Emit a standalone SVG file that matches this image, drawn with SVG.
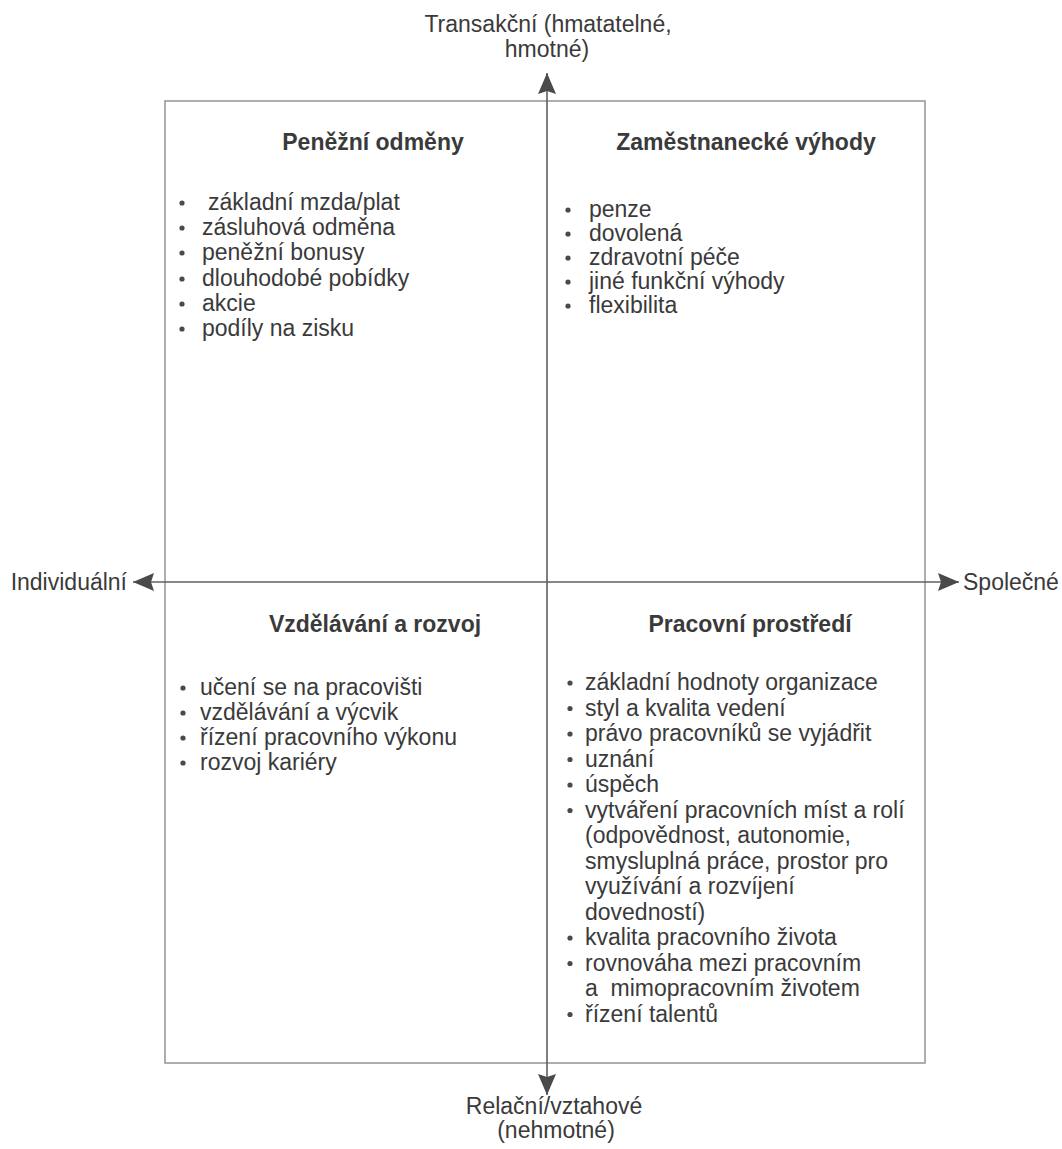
<svg xmlns="http://www.w3.org/2000/svg" width="1062" height="1149" viewBox="0 0 1062 1149">
<style>
  text { font-family: "Liberation Sans", Arial, sans-serif; font-size: 23px; fill: #3a3a3a; }
  .title { font-weight: bold; text-anchor: middle; }
  .mid { text-anchor: middle; }
  .end { text-anchor: end; }
  .axis { stroke: #606060; stroke-width: 1.6; fill: none; }
  .frame { stroke: #9a9a9a; stroke-width: 1.6; fill: none; }
  .dot { fill: #4a4a4a; }
</style>
<defs>
  <marker id="arrow" markerUnits="userSpaceOnUse" markerWidth="24" markerHeight="20" refX="21" refY="9" orient="auto-start-reverse" viewBox="0 0 24 20">
    <path d="M0,0 L21,9 L0,18 L3,9 z" fill="#4a4a4a"/>
  </marker>
</defs>
<rect width="1062" height="1149" fill="#ffffff"/>

<g id="frame">
  <rect class="frame" x="165" y="101" width="760" height="962"/>
</g>

<g id="connectors">
  <line class="axis" x1="547" y1="1095" x2="547" y2="73" marker-start="url(#arrow)" marker-end="url(#arrow)"/>
  <line class="axis" x1="959" y1="582" x2="133" y2="582" marker-start="url(#arrow)" marker-end="url(#arrow)"/>
</g>

<g id="axis-top">
  <text class="mid" x="548" y="32">Transakční (hmatatelné,</text>
  <text class="mid" x="547" y="57">hmotné)</text>
</g>
<g id="axis-bottom">
  <text class="mid" x="554" y="1114">Relační/vztahové</text>
  <text class="mid" x="556" y="1138">(nehmotné)</text>
</g>
<g id="axis-left">
  <text class="end" x="127" y="590">Individuální</text>
</g>
<g id="axis-right">
  <text x="963" y="590">Společné</text>
</g>

<g id="q-penezni-odmeny">
  <text class="title" x="373" y="150">Peněžní odměny</text>
  <circle class="dot" cx="182" cy="203" r="2.6"/>
  <circle class="dot" cx="182" cy="228" r="2.6"/>
  <circle class="dot" cx="182" cy="253" r="2.6"/>
  <circle class="dot" cx="182" cy="279" r="2.6"/>
  <circle class="dot" cx="182" cy="304" r="2.6"/>
  <circle class="dot" cx="182" cy="329" r="2.6"/>
  <text x="208" y="210">základní mzda/plat</text>
  <text x="202" y="235">zásluhová odměna</text>
  <text x="202" y="260">peněžní bonusy</text>
  <text x="202" y="286">dlouhodobé pobídky</text>
  <text x="202" y="311">akcie</text>
  <text x="202" y="336">podíly na zisku</text>
</g>

<g id="q-zamestnanecke-vyhody">
  <text class="title" x="746" y="150">Zaměstnanecké výhody</text>
  <circle class="dot" cx="568" cy="210" r="2.6"/>
  <circle class="dot" cx="568" cy="234" r="2.6"/>
  <circle class="dot" cx="568" cy="258" r="2.6"/>
  <circle class="dot" cx="568" cy="282" r="2.6"/>
  <circle class="dot" cx="568" cy="306" r="2.6"/>
  <text x="589" y="217">penze</text>
  <text x="589" y="241">dovolená</text>
  <text x="589" y="265">zdravotní péče</text>
  <text x="589" y="289">jiné funkční výhody</text>
  <text x="589" y="313">flexibilita</text>
</g>

<g id="q-vzdelavani-a-rozvoj">
  <text class="title" x="375" y="632">Vzdělávání a rozvoj</text>
  <circle class="dot" cx="183" cy="688" r="2.6"/>
  <circle class="dot" cx="183" cy="713" r="2.6"/>
  <circle class="dot" cx="183" cy="738" r="2.6"/>
  <circle class="dot" cx="183" cy="763" r="2.6"/>
  <text x="200" y="695">učení se na pracovišti</text>
  <text x="200" y="720">vzdělávání a výcvik</text>
  <text x="200" y="745">řízení pracovního výkonu</text>
  <text x="200" y="770">rozvoj kariéry</text>
</g>

<g id="q-pracovni-prostredi">
  <text class="title" x="750" y="632">Pracovní prostředí</text>
  <circle class="dot" cx="570" cy="683" r="2.6"/>
  <circle class="dot" cx="570" cy="708.5" r="2.6"/>
  <circle class="dot" cx="570" cy="734" r="2.6"/>
  <circle class="dot" cx="570" cy="759.5" r="2.6"/>
  <circle class="dot" cx="570" cy="785" r="2.6"/>
  <circle class="dot" cx="570" cy="810.5" r="2.6"/>
  <circle class="dot" cx="570" cy="938" r="2.6"/>
  <circle class="dot" cx="570" cy="963.5" r="2.6"/>
  <circle class="dot" cx="570" cy="1014.5" r="2.6"/>
  <text x="585" y="690">základní hodnoty organizace</text>
  <text x="585" y="715.5">styl a kvalita vedení</text>
  <text x="585" y="741">právo pracovníků se vyjádřit</text>
  <text x="585" y="766.5">uznání</text>
  <text x="585" y="792">úspěch</text>
  <text x="585" y="817.5">vytváření pracovních míst a rolí</text>
  <text x="585" y="843">(odpovědnost, autonomie,</text>
  <text x="585" y="868.5">smysluplná práce, prostor pro</text>
  <text x="585" y="894">využívání a rozvíjení</text>
  <text x="585" y="919.5">dovedností)</text>
  <text x="585" y="945">kvalita pracovního života</text>
  <text x="585" y="970.5">rovnováha mezi pracovním</text>
  <text x="585" y="996" xml:space="preserve">a  mimopracovním životem</text>
  <text x="585" y="1021.5">řízení talentů</text>
</g>
</svg>
